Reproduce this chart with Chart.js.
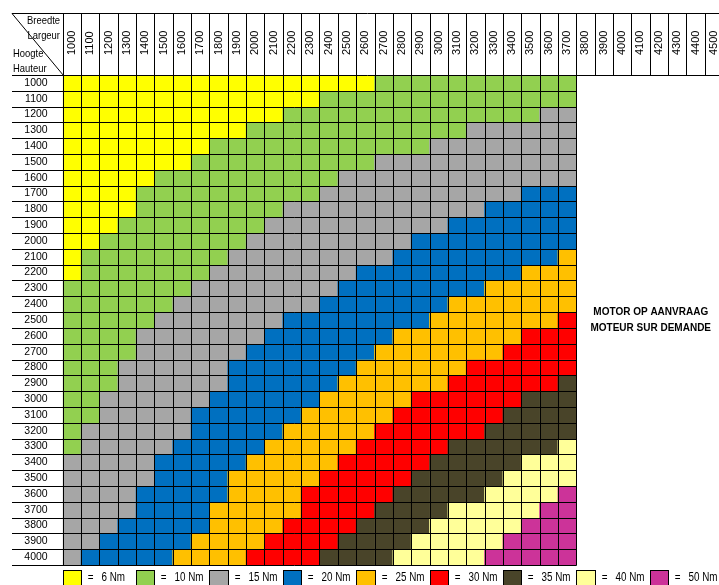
<!DOCTYPE html>
<html>
<head>
<meta charset="utf-8">
<script src="https://cdn.jsdelivr.net/npm/chart.js@4.4.1/dist/chart.umd.min.js"></script>
<style>
html, body { margin: 0; padding: 0; background: #fff; overflow: hidden; }
#torqueChart { display: block; width: 723px; height: 585px; }
</style>
</head>
<body>
<canvas id="torqueChart" width="723" height="585"></canvas>
<script>
// door breedte (kolommen) en hoogte (rijen), in mm
const widths = ['1000', '1100', '1200', '1300', '1400', '1500', '1600', '1700', '1800', '1900',
    '2000', '2100', '2200', '2300', '2400', '2500', '2600', '2700', '2800', '2900',
    '3000', '3100', '3200', '3300', '3400', '3500', '3600', '3700', '3800', '3900',
    '4000', '4100', '4200', '4300', '4400', '4500'];
const heights = [1000, 1100, 1200, 1300, 1400, 1500, 1600, 1700, 1800, 1900, 2000,
    2100, 2200, 2300, 2400, 2500, 2600, 2700, 2800, 2900, 3000,
    3100, 3200, 3300, 3400, 3500, 3600, 3700, 3800, 3900, 4000];

// torque classes
const torqueCodes = ['Y', 'G', 'S', 'B', 'O', 'R', 'D', 'L', 'M'];
const torqueNm = [6, 10, 15, 20, 25, 30, 35, 40, 50];
const torqueColors = ['#FFFF00', '#92D050', '#A6A6A6', '#0070C0', '#FFC000',
    '#FF0000', '#494429', '#FFFF99', '#CC3399'];

// one string per height, one letter per width 1000..3700 (spaces only for reading)
const rows = [
    'YYYYYYYYYY YYYYYYYGGG GGGGGGGG', // 1000
    'YYYYYYYYYY YYYYGGGGGG GGGGGGGG', // 1100
    'YYYYYYYYYY YYGGGGGGGG GGGGGGSS', // 1200
    'YYYYYYYYYY GGGGGGGGGG GGSSSSSS', // 1300
    'YYYYYYYYGG GGGGGGGGGG SSSSSSSS', // 1400
    'YYYYYYYGGG GGGGGGGSSS SSSSSSSS', // 1500
    'YYYYYGGGGG GGGGGSSSSS SSSSSSSS', // 1600
    'YYYYGGGGGG GGGGSSSSSS SSSSSBBB', // 1700
    'YYYYGGGGGG GGSSSSSSSS SSSBBBBB', // 1800
    'YYYGGGGGGG GSSSSSSSSS SBBBBBBB', // 1900
    'YYGGGGGGGG SSSSSSSSSB BBBBBBBB', // 2000
    'YGGGGGGGGS SSSSSSSSBB BBBBBBBO', // 2100
    'YGGGGGGGSS SSSSSSBBBB BBBBBOOO', // 2200
    'GGGGGGGSSS SSSSSBBBBB BBBOOOOO', // 2300
    'GGGGGGSSSS SSSSBBBBBB BOOOOOOO', // 2400
    'GGGGGSSSSS SSBBBBBBBB OOOOOOOR', // 2500
    'GGGGSSSSSS SBBBBBBBOO OOOOORRR', // 2600
    'GGGGSSSSSS BBBBBBBOOO OOOORRRR', // 2700
    'GGGSSSSSSB BBBBBBOOOO OORRRRRR', // 2800
    'GGGSSSSSSB BBBBBOOOOO ORRRRRRD', // 2900
    'GGSSSSSSBB BBBBOOOOOR RRRRRDDD', // 3000
    'GGSSSSSBBB BBBOOOOORR RRRRDDDD', // 3100
    'GSSSSSSBBB BBOOOOORRR RRRDDDDD', // 3200
    'GSSSSSBBBB BOOOOORRRR RDDDDDDL', // 3300
    'SSSSSBBBBB OOOOORRRRR DDDDDLLL', // 3400
    'SSSSSBBBBO OOOORRRRRD DDDDLLLL', // 3500
    'SSSSBBBBBO OOORRRRRDD DDDLLLLM', // 3600
    'SSSSBBBBOO OOORRRRDDD DLLLLLMM', // 3700
    'SSSBBBBBOO OORRRRDDDD LLLLLMMM', // 3800
    'SSBBBBBOOO ORRRRDDDDL LLLLMMMM', // 3900
    'SBBBBBOOOO RRRRDDDDLL LLLMMMMM'  // 4000
].map(r => r.replace(/ /g, ''));

const regular = '"Liberation Sans", Arial, sans-serif';

const datasets = heights.map((h, r) => {
    const cells = rows[r].split('');
    return {
        label: String(h),
        data: widths.map((w, c) => c < cells.length ? [h - 50, h + 50] : null),
        backgroundColor: widths.map((w, c) => c < cells.length ? torqueColors[torqueCodes.indexOf(cells[c])] : 'transparent')
    };
});

// Arial Narrow look-alike: squeeze Liberation Sans horizontally
function narrowText(ctx, text, x, y, align) {
    ctx.save();
    ctx.translate(x, y);
    ctx.scale(0.82, 1);
    ctx.textAlign = align;
    ctx.fillText(text, 0, 0);
    ctx.restore();
}

const tablePlugin = {
    id: 'tableLines',
    afterDatasetsDraw(chart) {
        const { ctx, scales: { x, y } } = chart;
        const halfCol = (x.getPixelForValue(1) - x.getPixelForValue(0)) / 2;
        const halfRow = (y.getPixelForValue(heights[1]) - y.getPixelForValue(heights[0])) / 2;
        const colEdge = i => Math.round(x.getPixelForValue(i) - halfCol) + 0.5;
        const rowEdge = i => Math.round(y.getPixelForValue(heights[Math.min(i, heights.length - 1)]) + (i < heights.length ? -halfRow : halfRow)) + 0.5;
        const nCols = rows[0].length;
        const left = 12;
        const headTop = 13.5;
        const headBottom = rowEdge(0);
        const bodyRight = colEdge(nCols);
        const fullRight = chart.width;

        ctx.save();
        ctx.strokeStyle = '#000';
        ctx.lineWidth = 1;
        ctx.beginPath();
        // header
        ctx.moveTo(left, headTop); ctx.lineTo(fullRight, headTop);
        ctx.moveTo(left, headBottom); ctx.lineTo(fullRight, headBottom);
        for (let i = 0; i <= widths.length; i++) {
            ctx.moveTo(colEdge(i), headTop); ctx.lineTo(colEdge(i), headBottom);
        }
        // body
        for (let r = 1; r <= heights.length; r++) {
            ctx.moveTo(left, rowEdge(r)); ctx.lineTo(bodyRight, rowEdge(r));
        }
        for (let i = 0; i <= nCols; i++) {
            ctx.moveTo(colEdge(i), headBottom); ctx.lineTo(colEdge(i), rowEdge(heights.length));
        }
        // corner diagonal
        ctx.moveTo(left, headTop); ctx.lineTo(colEdge(0), headBottom);
        ctx.stroke();

        // corner captions
        ctx.fillStyle = '#000';
        ctx.font = '11.5px ' + regular;
        ctx.textBaseline = 'middle';
        narrowText(ctx, 'Breedte', 60, 21, 'right');
        narrowText(ctx, 'Largeur', 60, 36, 'right');
        narrowText(ctx, 'Hoogte', 13, 54, 'left');
        narrowText(ctx, 'Hauteur', 13, 69, 'left');

        // motor on request
        const cx = (bodyRight + x.right) / 2 + 1;
        ctx.textAlign = 'center';
        ctx.font = 'bold 10px ' + regular;
        ctx.fillText('MOTOR OP AANVRAAG', cx, y.getPixelForValue(2450));
        ctx.fillText('MOTEUR SUR DEMANDE', cx, y.getPixelForValue(2550));

        // legend, one swatch every four columns
        ctx.font = '12px ' + regular;
        torqueNm.forEach((nm, k) => {
            const l = colEdge(k * 4);
            const rr = colEdge(k * 4 + 1);
            ctx.fillStyle = torqueColors[k];
            ctx.fillRect(l, 570.5, rr - l, 20);
            ctx.strokeRect(l, 570.5, rr - l, 20);
            ctx.fillStyle = '#000';
            narrowText(ctx, '=', rr + 9, 578, 'center');
            narrowText(ctx, nm + ' Nm', rr + 20, 578, 'left');
        });
        ctx.restore();
    }
};

const ctx = document.getElementById('torqueChart').getContext('2d');
const torqueChart = new Chart(ctx, {
    type: 'bar',
    data: { labels: widths, datasets: datasets },
    options: {
        responsive: false,
        animation: false,
        devicePixelRatio: 1,
        layout: { autoPadding: false, padding: { left: 12.7, top: 13, right: 0, bottom: 20 } },
        datasets: {
            bar: { grouped: false, barPercentage: 1, categoryPercentage: 1, borderWidth: 0 }
        },
        plugins: { legend: { display: false }, tooltip: { enabled: false } },
        scales: {
            x: {
                type: 'category',
                position: 'top',
                offset: true,
                grid: { display: false, drawTicks: false },
                border: { display: false },
                ticks: {
                    autoSkip: false, minRotation: 90, maxRotation: 90, padding: 20,
                    labelOffset: 13.2,
                    color: '#000', font: { family: regular, size: 11 }
                },
                afterFit: scale => {
                    scale.height = 62;
                    scale.paddingLeft = 0;
                    scale.paddingRight = 0;
                }
            },
            y: {
                type: 'linear',
                reverse: true,
                min: 950,
                max: 4050,
                afterBuildTicks: scale => { scale.ticks = heights.map(v => ({ value: v })); },
                grid: { display: false, drawTicks: false },
                border: { display: false },
                ticks: {
                    autoSkip: false, padding: 15, color: '#000', font: { family: regular, size: 10.5 },
                    callback: v => String(v)
                },
                afterFit: scale => {
                    scale.width = 50;
                    scale.paddingTop = 0;
                    scale.paddingBottom = 0;
                }
            }
        }
    },
    plugins: [tablePlugin]
});
</script>
</body>
</html>
